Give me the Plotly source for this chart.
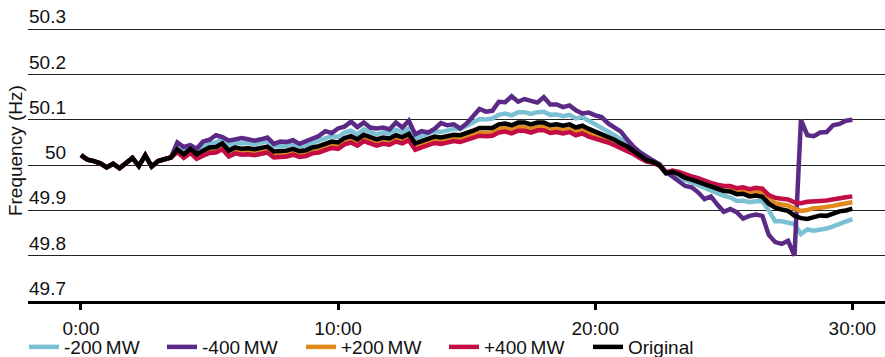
import plotly.graph_objects as go

# ---------------- data ----------------
time_min = [i * 0.25 for i in range(121)]  # minutes 0..30

original = [
    50.022, 50.012, 50.009, 50.004, 49.995, 50.003, 49.993, 50.006, 50.016, 49.998, 50.022, 49.997, 50.009, 50.013, 50.017,
    50.035,
    50.024, 50.036, 50.024, 50.032, 50.039, 50.040, 50.048, 50.032, 50.039, 50.036, 50.037, 50.035,
    50.038, 50.041, 50.030, 50.031, 50.032, 50.036, 50.031, 50.033, 50.039, 50.042, 50.046, 50.052,
    50.050, 50.060, 50.064, 50.057, 50.067, 50.061, 50.057, 50.061, 50.059, 50.066, 50.062, 50.069,
    50.048, 50.053, 50.057, 50.063, 50.061, 50.064, 50.067, 50.066, 50.070, 50.076, 50.082, 50.081,
    50.082, 50.090, 50.092, 50.088, 50.094, 50.094, 50.090, 50.094, 50.094, 50.088, 50.090, 50.087,
    50.090, 50.083, 50.087, 50.080, 50.074, 50.070, 50.063, 50.056, 50.048, 50.041, 50.031, 50.020,
    50.011, 50.007, 50.000, 49.982, 49.985, 49.980, 49.972, 49.968, 49.963, 49.956, 49.951, 49.946,
    49.943, 49.942, 49.936, 49.937, 49.931, 49.933, 49.930, 49.915, 49.906, 49.902, 49.899, 49.888,
    49.883, 49.881, 49.886, 49.889, 49.888, 49.893, 49.898, 49.900,
    49.904,
]

minus_200 = [
    50.022, 50.012, 50.009, 50.004, 49.995, 50.003, 49.993, 50.006, 50.016, 49.998, 50.022, 49.997, 50.009, 50.013, 50.017,
    50.038,
    50.030, 50.042, 50.031, 50.040, 50.048, 50.050, 50.058, 50.043, 50.050, 50.048, 50.049, 50.046,
    50.049, 50.053, 50.041, 50.042, 50.043, 50.047, 50.042, 50.044, 50.050, 50.054, 50.059, 50.064,
    50.062, 50.072, 50.076, 50.068, 50.079, 50.073, 50.068, 50.072, 50.070, 50.078, 50.073, 50.081,
    50.059, 50.064, 50.069, 50.075, 50.073, 50.077, 50.080, 50.080, 50.086, 50.094, 50.102, 50.101,
    50.103, 50.111, 50.114, 50.110, 50.117, 50.117, 50.113, 50.117, 50.118, 50.111, 50.112, 50.108,
    50.111, 50.103, 50.106, 50.098, 50.090, 50.084, 50.075, 50.066, 50.057, 50.049, 50.038, 50.026,
    50.016, 50.010, 50.001, 49.982, 49.983, 49.976, 49.967, 49.962, 49.956, 49.948, 49.943, 49.936,
    49.932, 49.929, 49.921, 49.922, 49.918, 49.920, 49.920, 49.900, 49.876, 49.876, 49.874, 49.870,
    49.848, 49.858, 49.855, 49.857, 49.860, 49.865, 49.871, 49.876,
    49.881,
]

minus_400 = [
    50.022, 50.012, 50.009, 50.004, 49.995, 50.003, 49.993, 50.006, 50.016, 49.998, 50.022, 49.997, 50.009, 50.013, 50.017,
    50.050,
    50.040, 50.044, 50.036, 50.052, 50.056, 50.066, 50.062, 50.054, 50.058, 50.060, 50.057, 50.054,
    50.057, 50.061, 50.047, 50.052, 50.051, 50.055, 50.047, 50.052, 50.058, 50.064, 50.075, 50.071,
    50.081, 50.085, 50.096, 50.084, 50.094, 50.083, 50.081, 50.083, 50.079, 50.094, 50.083, 50.098,
    50.068, 50.075, 50.072, 50.080, 50.093, 50.088, 50.090, 50.081, 50.092, 50.108, 50.124, 50.118,
    50.120, 50.140, 50.139, 50.152, 50.140, 50.146, 50.142, 50.138, 50.150, 50.134, 50.134, 50.128,
    50.132, 50.121, 50.114, 50.116, 50.110, 50.106, 50.092, 50.084, 50.074, 50.056, 50.040, 50.028,
    50.018, 50.010, 50.002, 49.985, 49.975, 49.965, 49.954, 49.951, 49.940, 49.925, 49.931, 49.913,
    49.897, 49.903, 49.896, 49.882, 49.888, 49.891, 49.888, 49.846, 49.830, 49.826, 49.833, 49.800,
    50.100, 50.066, 50.064, 50.072, 50.073, 50.088, 50.091, 50.098,
    50.100,
]

plus_200 = [
    50.022, 50.012, 50.009, 50.004, 49.995, 50.003, 49.993, 50.006, 50.016, 49.998, 50.022, 49.997, 50.009, 50.013, 50.017,
    50.032,
    50.020, 50.032, 50.020, 50.027, 50.034, 50.035, 50.042, 50.026, 50.032, 50.029, 50.030, 50.028,
    50.031, 50.034, 50.023, 50.024, 50.025, 50.029, 50.024, 50.026, 50.032, 50.035, 50.039, 50.045,
    50.043, 50.053, 50.057, 50.050, 50.060, 50.054, 50.050, 50.054, 50.052, 50.059, 50.055, 50.062,
    50.041, 50.046, 50.050, 50.056, 50.054, 50.057, 50.060, 50.058, 50.062, 50.067, 50.072, 50.071,
    50.072, 50.080, 50.082, 50.078, 50.084, 50.083, 50.080, 50.084, 50.084, 50.078, 50.080, 50.077,
    50.080, 50.073, 50.077, 50.070, 50.065, 50.061, 50.055, 50.049, 50.042, 50.036, 50.027, 50.017,
    50.009, 50.006, 50.000, 49.983, 49.987, 49.983, 49.976, 49.972, 49.968, 49.961, 49.957, 49.952,
    49.949, 49.949, 49.943, 49.944, 49.939, 49.941, 49.939, 49.925, 49.916, 49.913, 49.911, 49.904,
    49.899, 49.901, 49.905, 49.906, 49.907, 49.910, 49.913, 49.915,
    49.918,
]

plus_400 = [
    50.022, 50.012, 50.009, 50.004, 49.995, 50.003, 49.993, 50.006, 50.016, 49.998, 50.022, 49.997, 50.009, 50.013, 50.017,
    50.029,
    50.016, 50.027, 50.014, 50.021, 50.027, 50.028, 50.035, 50.019, 50.026, 50.023, 50.024, 50.022,
    50.025, 50.028, 50.017, 50.018, 50.019, 50.023, 50.018, 50.020, 50.026, 50.028, 50.032, 50.038,
    50.036, 50.046, 50.050, 50.043, 50.053, 50.047, 50.043, 50.047, 50.045, 50.052, 50.048, 50.055,
    50.034, 50.039, 50.043, 50.049, 50.047, 50.050, 50.053, 50.051, 50.055, 50.060, 50.065, 50.064,
    50.065, 50.072, 50.074, 50.070, 50.076, 50.076, 50.072, 50.077, 50.077, 50.071, 50.073, 50.070,
    50.073, 50.066, 50.070, 50.063, 50.059, 50.055, 50.050, 50.044, 50.038, 50.032, 50.024, 50.015,
    50.008, 50.005, 49.999, 49.984, 49.988, 49.985, 49.979, 49.975, 49.971, 49.965, 49.961, 49.957,
    49.954, 49.954, 49.949, 49.951, 49.947, 49.950, 49.948, 49.934, 49.928, 49.926, 49.924, 49.918,
    49.916, 49.919, 49.921, 49.921, 49.922, 49.925, 49.927, 49.929,
    49.931,
]

series_names = ["-200\u2009MW", "-400\u2009MW", "+200\u2009MW", "+400\u2009MW", "Original"]
series_values = [minus_200, minus_400, plus_200, plus_400, original]
series_colors = ["#7cc0d4", "#5b2a86", "#e08a1e", "#c20e45", "#000000"]

x_tick_vals = [0, 10, 20, 30]
x_tick_text = ["0:00", "10:00", "20:00", "30:00"]
y_tick_vals = [49.7, 49.8, 49.9, 50.0, 50.1, 50.2, 50.3]
y_tick_text = ["49.7", "49.8", "49.9", "50", "50.1", "50.2", "50.3"]

FONT = "Liberation Sans, Arial, sans-serif"
PLOT_L, PLOT_W = 28, 857
legend_swatch_px = [29, 167, 306, 449, 593]   # left end of each legend swatch

# ---------------- figure ----------------
fig = go.Figure()
legend_ids = ["legend", "legend2", "legend3", "legend4", "legend5"]
for name, vals, col, lid in zip(series_names, series_values, series_colors, legend_ids):
    fig.add_trace(go.Scatter(
        x=time_min, y=vals, mode="lines", name=name, legend=lid,
        line=dict(color=col, width=4.5),
    ))

annotations = []
for v, t in zip(y_tick_vals, y_tick_text):
    annotations.append(dict(
        x=40 / PLOT_W, xref="paper", y=v, yref="y", text=t, showarrow=False,
        xanchor="right", yanchor="bottom", font=dict(family=FONT, size=19, color="#111"),
    ))
annotations.append(dict(
    x=-13 / PLOT_W, xref="paper", y=0.547, yref="paper", text="Frequency (Hz)",
    showarrow=False, textangle=-90, xanchor="center", yanchor="middle",
    font=dict(family=FONT, size=19, color="#111"),
))

legend_layouts = {}
for lid, px in zip(legend_ids, legend_swatch_px):
    legend_layouts[lid] = dict(
        orientation="h", x=(px - 5 - PLOT_L) / PLOT_W, xanchor="left",
        y=-0.168, yanchor="middle",
        font=dict(family=FONT, size=19, color="#111"),
        bgcolor="rgba(0,0,0,0)", borderwidth=0,
    )

fig.update_layout(
    width=885, height=357,
    margin=dict(l=PLOT_L, r=0, t=27, b=56, autoexpand=False),
    paper_bgcolor="white", plot_bgcolor="white",
    showlegend=True,
    xaxis=dict(
        range=[-2.06, 31.27], tickvals=x_tick_vals, ticktext=x_tick_text,
        showgrid=False, zeroline=False, showline=True, linecolor="black", linewidth=3,
        ticks="outside", ticklen=6, tickwidth=3, tickcolor="black",
        tickfont=dict(family=FONT, size=19, color="#111"), ticklabelstandoff=2,
    ),
    yaxis=dict(
        range=[49.7, 50.305], tickvals=y_tick_vals[1:], showticklabels=False,
        showgrid=True, gridcolor="#222", gridwidth=1, zeroline=False, showline=False,
    ),
    annotations=annotations,
    **legend_layouts,
)

fig.write_html("out.html", config={"displayModeBar": False})

# remove the default 8px page margin so the figure sits at the window's corner
with open("out.html", "r", encoding="utf-8") as f:
    html = f.read()
html = html.replace("<head>", "<head><style>html,body{margin:0;padding:0;overflow:hidden;}</style>", 1)
with open("out.html", "w", encoding="utf-8") as f:
    f.write(html)
